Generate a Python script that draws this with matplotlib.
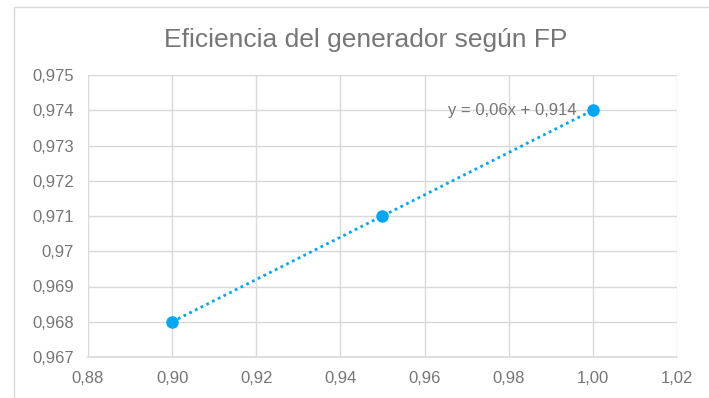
import matplotlib
matplotlib.use("Agg")
import matplotlib.pyplot as plt
from matplotlib.ticker import FuncFormatter, MultipleLocator
from matplotlib.patches import Rectangle
import numpy as np

plt.rcParams['font.family'] = ['Liberation Sans', 'DejaVu Sans']

# datos
fp = [0.90, 0.95, 1.00]
eficiencia = [0.968, 0.971, 0.974]
titulo = "Eficiencia del generador según FP"

gris_txt = '#767676'
gris_grid = '#d9d9d9'
azul = '#00a8f3'

fig = plt.figure(figsize=(7.09, 3.98), dpi=100)
ax = fig.add_axes([88 / 709, 1 - 357 / 398, (677 - 88) / 709, (357 - 75) / 398])

# tendencia lineal
m, b = np.polyfit(fp, eficiencia, 1)
xs = np.array([min(fp), max(fp)])
ax.plot(xs, m * xs + b, linestyle=(0, (1, 1.3)), color=azul, lw=2, zorder=3)
ax.plot(fp, eficiencia, 'o', color=azul, ms=8, zorder=4)

ax.text(0.9962, 0.974, f"y = {m:.2f}x + {b:.3f}".replace('.', ','),
        ha='right', va='center', fontsize=12, color=gris_txt)

ax.set_xlim(0.88, 1.02)
ax.set_ylim(0.967, 0.975)
ax.xaxis.set_major_locator(MultipleLocator(0.02))
ax.yaxis.set_major_locator(MultipleLocator(0.001))
ax.xaxis.set_major_formatter(FuncFormatter(lambda v, p: f"{v:.2f}".replace('.', ',')))
ax.yaxis.set_major_formatter(FuncFormatter(
    lambda v, p: (f"{v:.3f}".rstrip('0').rstrip('.')).replace('.', ',')))

ax.grid(True, color=gris_grid, lw=1)
ax.set_axisbelow(True)
for s in ['top', 'right', 'left']:
    ax.spines[s].set_visible(False)
ax.spines['bottom'].set_color(gris_grid)
ax.spines['bottom'].set_linewidth(1.2)
ax.tick_params(length=0, labelsize=12, colors=gris_txt)
ax.tick_params(axis='y', pad=10)
ax.tick_params(axis='x', pad=10)

fig.text(366 / 709, 1 - 40 / 398, titulo, ha='center', va='center', fontsize=19, color=gris_txt)

# borde del area del grafico
fig.patches.append(Rectangle((14 / 709, -0.1), 1.2, (398 - 7) / 398 + 0.1,
                             transform=fig.transFigure, fill=False,
                             edgecolor=gris_grid, lw=1))

fig.savefig('out.png', dpi=100)
